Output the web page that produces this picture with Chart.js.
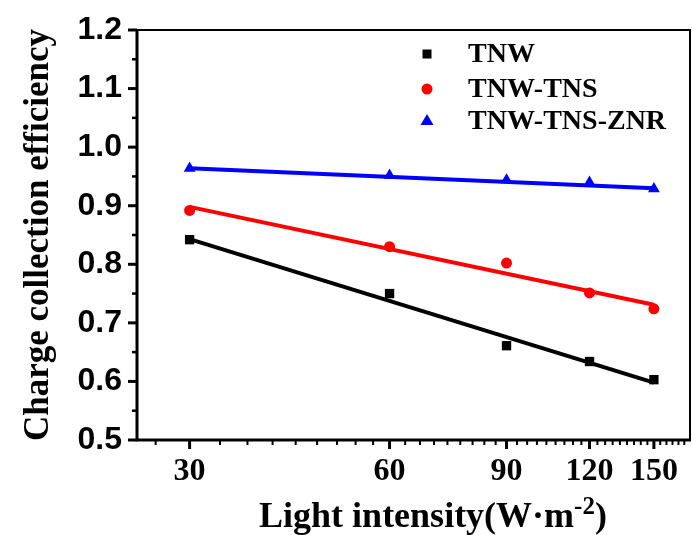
<!DOCTYPE html>
<html>
<head>
<meta charset="utf-8">
<script src="https://cdn.jsdelivr.net/npm/chart.js@4.4.1/dist/chart.umd.min.js"></script>
<style>
  html, body { margin: 0; padding: 0; background: #fff; }
</style>
</head>
<body>
<canvas id="cce" width="692" height="535"></canvas>
<script>
// measured points
const intensity = [30, 60, 90, 120, 150];
const tnw = [0.842, 0.750, 0.661, 0.634, 0.603];
const tnwTns = [0.892, 0.830, 0.802, 0.751, 0.724];
const tnwTnsZnr = [0.964, 0.952, 0.944, 0.940, 0.929];

// fitted lines (end points)
const fitX = [30, 150];
const fitTnw = [0.843, 0.598];
const fitTnwTns = [0.898, 0.731];
const fitTnwTnsZnr = [0.964, 0.930];

const seriesNames = ['TNW', 'TNW-TNS', 'TNW-TNS-ZNR'];
const colors = ['#000000', '#ff0000', '#0000ff'];

const xTicks = [30, 60, 90, 120, 150];
const yTicks = [0.5, 0.6, 0.7, 0.8, 0.9, 1.0, 1.1, 1.2];

const SERIF = '"Liberation Serif", "Times New Roman", serif';
const SANS = '"Liberation Sans", Arial, sans-serif';

const pts = (xs, ys) => xs.map((x, i) => ({x: x, y: ys[i]}));

function fitLine(ys, color) {
    return {
        data: pts(fitX, ys),
        showLine: true,
        borderColor: color,
        borderWidth: 4,
        pointRadius: 0,
        order: 1
    };
}

function marks(ys, color, style, r) {
    return {
        data: pts(intensity, ys),
        showLine: false,
        pointStyle: style,
        pointRadius: r,
        pointHoverRadius: r,
        backgroundColor: color,
        borderColor: color,
        borderWidth: 0,
        order: 0
    };
}

// frame, tick marks, titles and legend
const decorations = {
    id: 'decorations',
    afterDraw(chart) {
        const {ctx, chartArea: a, scales: {x, y}} = chart;
        ctx.save();
        ctx.strokeStyle = '#000';
        ctx.fillStyle = '#000';

        ctx.lineWidth = 2;
        ctx.strokeRect(a.left, a.top, a.right - a.left, a.bottom - a.top);
        ctx.lineWidth = 3;
        ctx.beginPath();
        ctx.moveTo(a.left, a.top - 1);
        ctx.lineTo(a.left, a.bottom);
        ctx.lineTo(a.right + 1, a.bottom);
        ctx.stroke();

        // y ticks
        for (let i = 0; i < yTicks.length; i++) {
            const py = y.getPixelForValue(yTicks[i]);
            ctx.lineWidth = 3;
            ctx.beginPath();
            ctx.moveTo(a.left - 9, py);
            ctx.lineTo(a.left, py);
            ctx.stroke();
            if (i < yTicks.length - 1) {
                const pm = y.getPixelForValue(yTicks[i] + 0.05);
                ctx.lineWidth = 2.5;
                ctx.beginPath();
                ctx.moveTo(a.left - 5, pm);
                ctx.lineTo(a.left, pm);
                ctx.stroke();
            }
        }

        // x ticks
        ctx.lineWidth = 3;
        xTicks.forEach(v => {
            const px = x.getPixelForValue(v);
            ctx.beginPath();
            ctx.moveTo(px, a.bottom);
            ctx.lineTo(px, a.bottom + 9);
            ctx.stroke();
        });
        ctx.lineWidth = 2;
        for (let k = -1; 30 + k * 10 / 3 < x.max; k++) {
            if (k % 9 === 0) continue;
            const v = 30 + k * 10 / 3;
            if (v <= x.min) continue;
            const px = x.getPixelForValue(v);
            ctx.beginPath();
            ctx.moveTo(px, a.bottom);
            ctx.lineTo(px, a.bottom + 5);
            ctx.stroke();
        }

        // y title
        ctx.save();
        ctx.font = 'bold 35px ' + SERIF;
        ctx.textAlign = 'center';
        ctx.textBaseline = 'alphabetic';
        ctx.translate(48, (a.top + a.bottom) / 2);
        ctx.rotate(-Math.PI / 2);
        ctx.fillText('Charge collection efficiency', 0, 0);
        ctx.restore();

        // x title with superscript
        ctx.textAlign = 'left';
        ctx.textBaseline = 'alphabetic';
        const main = 'Light intensity(W\u00b7m';
        ctx.font = 'bold 36px ' + SERIF;
        const w1 = ctx.measureText(main).width;
        ctx.font = 'bold 25px ' + SERIF;
        const w2 = ctx.measureText('-2').width;
        ctx.font = 'bold 36px ' + SERIF;
        const w3 = ctx.measureText(')').width;
        let tx = 433 - (w1 + w2 + w3) / 2;
        const base = 527;
        ctx.fillText(main, tx, base);
        tx += w1;
        ctx.font = 'bold 25px ' + SERIF;
        ctx.fillText('-2', tx, base - 13);
        tx += w2;
        ctx.font = 'bold 36px ' + SERIF;
        ctx.fillText(')', tx, base);

        // legend
        const lx = 427, rows = [54, 89, 121];
        ctx.font = 'bold 28px ' + SERIF;
        ctx.textBaseline = 'middle';
        seriesNames.forEach((name, i) => {
            const ly = rows[i];
            ctx.fillStyle = colors[i];
            ctx.beginPath();
            if (i === 0) {
                ctx.rect(lx - 4.5, ly - 4.5, 9, 9);
            } else if (i === 1) {
                ctx.arc(lx, ly, 5.5, 0, Math.PI * 2);
            } else {
                ctx.moveTo(lx, ly - 7);
                ctx.lineTo(lx + 6.5, ly + 4);
                ctx.lineTo(lx - 6.5, ly + 4);
                ctx.closePath();
            }
            ctx.fill();
            ctx.fillStyle = '#000';
            ctx.fillText(name, 468, ly + 1);
        });

        ctx.restore();
    }
};

new Chart(document.getElementById('cce'), {
    type: 'scatter',
    data: {
        datasets: [
            marks(tnw, colors[0], 'rect', 6.6),
            marks(tnwTns, colors[1], 'circle', 5.5),
            marks(tnwTnsZnr, colors[2], 'triangle', 6.8),
            fitLine(fitTnw, colors[0]),
            fitLine(fitTnwTns, colors[1]),
            fitLine(fitTnwTnsZnr, colors[2])
        ]
    },
    options: {
        responsive: false,
        animation: false,
        layout: {
            autoPadding: false,
            padding: {top: 30, right: 2, left: 0, bottom: 0}
        },
        plugins: {
            legend: {display: false},
            tooltip: {enabled: false}
        },
        scales: {
            x: {
                type: 'logarithmic',
                min: 25,
                max: 170,
                afterBuildTicks: s => { s.ticks = xTicks.map(v => ({value: v})); },
                afterFit: s => {
                    s.height = 95;
                    s.paddingLeft = 0;
                    s.paddingRight = 0;
                },
                grid: {display: false, drawTicks: false},
                border: {display: false},
                ticks: {
                    autoSkip: false,
                    maxRotation: 0,
                    padding: 13,
                    color: '#000',
                    font: {family: SERIF, size: 32, weight: 'bold'},
                    callback: v => String(v)
                }
            },
            y: {
                min: 0.5,
                max: 1.2,
                afterBuildTicks: s => { s.ticks = yTicks.map(v => ({value: v})); },
                afterFit: s => {
                    s.width = 137;
                    s.paddingTop = 0;
                    s.paddingBottom = 0;
                },
                grid: {display: false, drawTicks: false},
                border: {display: false},
                ticks: {
                    padding: 15,
                    color: '#000',
                    font: {family: SANS, size: 32, weight: 'bold'},
                    callback: v => v.toFixed(1)
                }
            }
        }
    },
    plugins: [decorations]
});
</script>
</body>
</html>
